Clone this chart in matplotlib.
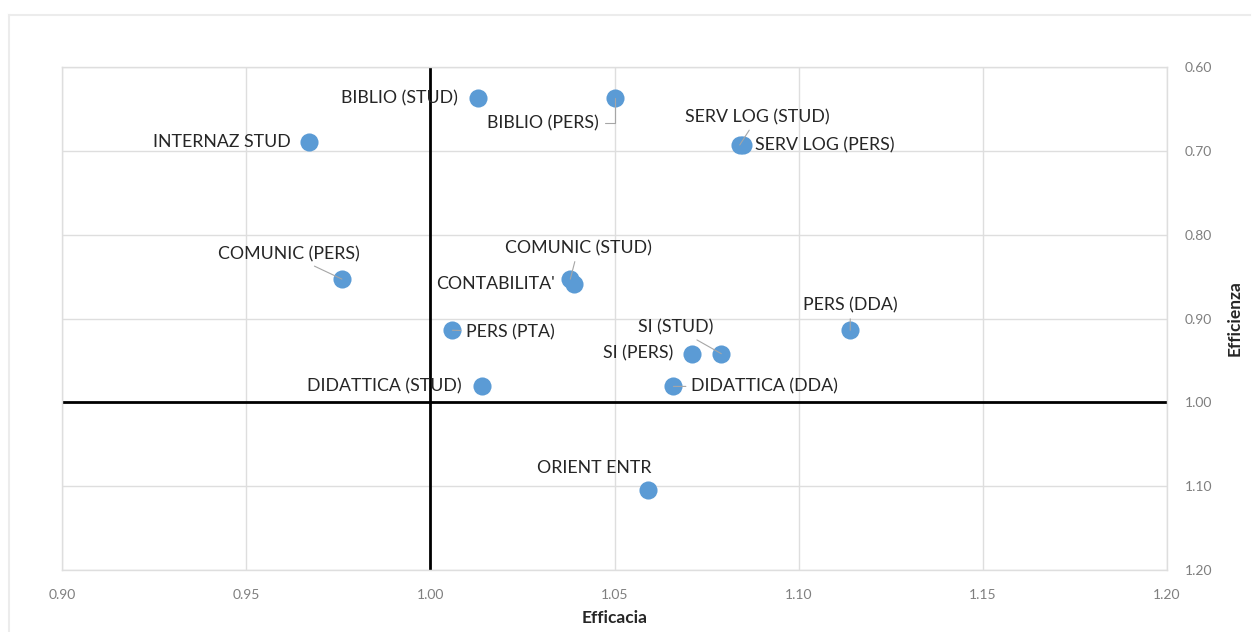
import matplotlib
matplotlib.use("Agg")
import matplotlib.pyplot as plt
from matplotlib.lines import Line2D

plt.rcParams['font.family'] = ['Lato', 'DejaVu Sans']

labels = ["BIBLIO (STUD)", "BIBLIO (PERS)", "INTERNAZ STUD", "SERV LOG (STUD)",
          "SERV LOG (PERS)", "COMUNIC (PERS)", "COMUNIC (STUD)", "CONTABILITA'",
          "PERS (DDA)", "PERS (PTA)", "SI (STUD)", "SI (PERS)",
          "DIDATTICA (STUD)", "DIDATTICA (DDA)", "ORIENT ENTR"]
efficacia = [1.013, 1.050, 0.967, 1.084, 1.085, 0.976, 1.038, 1.039,
             1.114, 1.006, 1.079, 1.071, 1.014, 1.066, 1.059]
efficienza = [0.637, 0.637, 0.690, 0.693, 0.693, 0.853, 0.853, 0.859,
              0.914, 0.914, 0.942, 0.942, 0.981, 0.981, 1.104]

x_ticks = [0.90, 0.95, 1.00, 1.05, 1.10, 1.15, 1.20]
y_ticks = [0.60, 0.70, 0.80, 0.90, 1.00, 1.10, 1.20]

# label placement: (dx, dy) in pixels, horizontal alignment, leader line
placement = {
    "BIBLIO (STUD)": (-20, 0, 'right', None),
    "BIBLIO (PERS)": (-16, -25, 'right', 'elbow'),
    "INTERNAZ STUD": (-18, 0, 'right', None),
    "SERV LOG (STUD)": (18, 28, 'center', 'line'),
    "SERV LOG (PERS)": (12, 0, 'left', None),
    "COMUNIC (PERS)": (-53, 25, 'center', 'line'),
    "COMUNIC (STUD)": (8, 31, 'center', 'line'),
    "CONTABILITA'": (-19, 0, 'right', None),
    "PERS (DDA)": (0, 25, 'center', 'line'),
    "PERS (PTA)": (14, -2, 'left', 'line'),
    "SI (STUD)": (-46, 26, 'center', 'line'),
    "SI (PERS)": (-19, 0, 'right', None),
    "DIDATTICA (STUD)": (-20, 0, 'right', None),
    "DIDATTICA (DDA)": (18, 0, 'left', 'line'),
    "ORIENT ENTR": (-53, 22, 'center', None),
}

fig = plt.figure(figsize=(12.54, 6.32), dpi=100)
W, H = 1254, 632
ax = fig.add_axes([62 / W, 1 - 570 / H, (1167 - 62) / W, (570 - 67) / H])

grid_c = '#dedede'
ax.set_xlim(0.90, 1.20)
ax.set_ylim(1.20, 0.60)
ax.set_xticks(x_ticks)
ax.set_yticks(y_ticks)
ax.set_xticklabels([f"{v:.2f}" for v in x_ticks])
ax.set_yticklabels([f"{v:.2f}" for v in y_ticks])
ax.grid(True, color=grid_c, lw=1)
ax.set_axisbelow(True)
for s in ax.spines.values():
    s.set_color(grid_c)
    s.set_linewidth(1)
ax.yaxis.tick_right()
ax.yaxis.set_label_position('right')
ax.tick_params(axis='both', length=0, colors='#7f7f7f', labelsize=10)
ax.tick_params(axis='x', pad=14)
ax.tick_params(axis='y', pad=13)

ax.axvline(1.0, color='black', lw=2, zorder=2)
ax.axhline(1.0, color='black', lw=2, zorder=2)

ax.scatter(efficacia, efficienza, s=170, color='#5b9bd5', zorder=4, linewidths=0)

for lab, x, y in zip(labels, efficacia, efficienza):
    dx, dy, ha, lead = placement[lab]
    kw = {}
    if lead == 'line':
        kw['arrowprops'] = dict(arrowstyle='-', color='#a6a6a6', lw=0.8,
                                shrinkA=2, shrinkB=0)
    elif lead == 'elbow':
        kw['arrowprops'] = dict(arrowstyle='-', color='#a6a6a6', lw=0.8,
                                connectionstyle='angle,angleA=0,angleB=90',
                                shrinkA=3, shrinkB=0)
    ax.annotate(lab, (x, y), xytext=(dx, dy), textcoords='offset pixels',
                ha=ha, va='center', fontsize=12.8, color='#262626', zorder=5, **kw)

ax.set_xlabel("Efficacia", fontsize=12.5, fontweight='bold', color='#262626', labelpad=6)
ax.set_ylabel("Efficienza", fontsize=12.5, fontweight='bold', color='#262626',
              labelpad=10, rotation=90)

# outer frame
border_c = '#ececec'
fig.add_artist(Line2D([9 / W, 1250 / W], [1 - 15 / H, 1 - 15 / H],
                      transform=fig.transFigure, color=border_c, lw=1.5))
fig.add_artist(Line2D([9 / W, 9 / W], [1 - 15 / H, 0],
                      transform=fig.transFigure, color=border_c, lw=1.5))

fig.savefig("out.png", dpi=100, facecolor='white')
